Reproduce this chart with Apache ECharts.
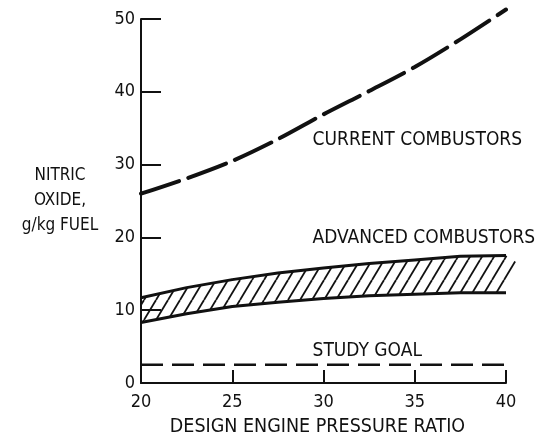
<!DOCTYPE html>
<html><head><meta charset="utf-8">
<script src="https://cdn.jsdelivr.net/npm/echarts@6/dist/echarts.min.js"></script>
<style>html,body{margin:0;padding:0;background:#fff}#c{width:543px;height:444px}</style>
</head><body><div id="c"></div>
<script>
// Data
const pressureRatio = [20, 22.5, 25, 27.5, 30, 32.5, 35, 37.5, 40];
const currentNOx = [26.0, 28.1, 30.5, 33.5, 36.9, 40.1, 43.4, 47.2, 51.3];
const advancedUpper = [11.7, 13.1, 14.2, 15.1, 15.8, 16.4, 16.9, 17.4, 17.5];
const advancedLower = [8.3, 9.5, 10.5, 11.1, 11.6, 12.0, 12.2, 12.4, 12.4];
const hatchTail = [40.8, 16.2];
const goalX = [20, 40.2];
const goalY = [2.5, 2.5];
const xTicks = [20, 25, 30, 35, 40];
const yTicks = [0, 10, 20, 30, 40, 50];
const labels = [
  {text: 'CURRENT COMBUSTORS', x: 29.4, y: 33.4},
  {text: 'ADVANCED COMBUSTORS', x: 29.4, y: 19.9},
  {text: 'STUDY GOAL', x: 29.4, y: 4.4}
];

const FONT = '"DejaVu Sans Condensed", "DejaVu Sans", sans-serif';
const INK = '#111';

// hatch pattern tile
const tile = document.createElement('canvas');
tile.width = 12; tile.height = 20;
const g = tile.getContext('2d');
g.strokeStyle = INK; g.lineWidth = 1.8;
[-12, 0, 12].forEach(o => { g.beginPath(); g.moveTo(o, 20); g.lineTo(o + 12, 0); g.stroke(); });

const pairs = (xs, ys) => xs.map((x, i) => [x, ys[i]]);

const chart = echarts.init(document.getElementById('c'), null, {renderer: 'canvas'});
chart.setOption({
  animation: false,
  backgroundColor: '#fff',
  grid: {left: 141, right: 37, top: 19, bottom: 61},
  xAxis: {
    type: 'value', min: 20, max: 40, interval: 5,
    name: 'DESIGN ENGINE PRESSURE RATIO', nameLocation: 'middle', nameGap: 34,
    nameTextStyle: {fontFamily: FONT, fontSize: 19.5, color: INK, padding: [0, 12, 0, 0]},
    axisLine: {lineStyle: {color: INK, width: 2}},
    axisTick: {inside: true, length: 13, lineStyle: {color: INK, width: 2}},
    axisLabel: {fontFamily: FONT, fontSize: 18, color: INK, margin: 10},
    splitLine: {show: false}
  },
  yAxis: {
    type: 'value', min: 0, max: 50, interval: 10,
    name: 'NITRIC\nOXIDE,\ng/kg FUEL', nameLocation: 'middle', nameGap: 81, nameRotate: 0,
    nameTextStyle: {fontFamily: FONT, fontSize: 17, color: INK, align: 'center', lineHeight: 25},
    axisLine: {lineStyle: {color: INK, width: 2}},
    axisTick: {inside: true, length: 20, lineStyle: {color: INK, width: 2}},
    axisLabel: {fontFamily: FONT, fontSize: 18, color: INK, margin: 6},
    splitLine: {show: false}
  },
  series: [
    {type: 'custom', name: 'band', data: pressureRatio.map((x, i) => [x, advancedLower[i], advancedUpper[i]]),
     encode: {x: 0, y: [1, 2]}, clip: false, silent: true,
     renderItem: (params, api) => {
       if (params.dataIndex !== 0) return;
       const top = pressureRatio.map((x, i) => api.coord([x, advancedUpper[i]]));
       const tail = [api.coord(hatchTail)];
       const bot = pressureRatio.map((x, i) => api.coord([x, advancedLower[i]])).reverse();
       return {type: 'polygon', shape: {points: top.concat(tail, bot)},
               style: {fill: {image: tile, repeat: 'repeat'}, stroke: null}};
     }},
    {type: 'line', name: 'upper', data: pairs(pressureRatio, advancedUpper),
     symbol: 'none', lineStyle: {color: INK, width: 3}},
    {type: 'line', name: 'lower', data: pairs(pressureRatio, advancedLower),
     symbol: 'none', lineStyle: {color: INK, width: 3}},
    {type: 'line', name: 'current', data: pairs(pressureRatio, currentNOx), smooth: 0.3, clip: false,
     symbol: 'none', lineStyle: {color: INK, width: 4, type: [40, 10], cap: 'round'},
     markPoint: {
       symbol: 'circle', symbolSize: 0, silent: true,
       label: {show: true, position: 'right', distance: 0, fontFamily: FONT, fontSize: 19, color: INK,
               formatter: p => p.name},
       data: labels.map(l => ({name: l.text, coord: [l.x, l.y]}))
     }},
    {type: 'line', name: 'goal', data: pairs(goalX, goalY), symbol: 'none', clip: false,
     lineStyle: {color: INK, width: 2.5, type: [22, 9]}}
  ]
});
</script></body></html>
